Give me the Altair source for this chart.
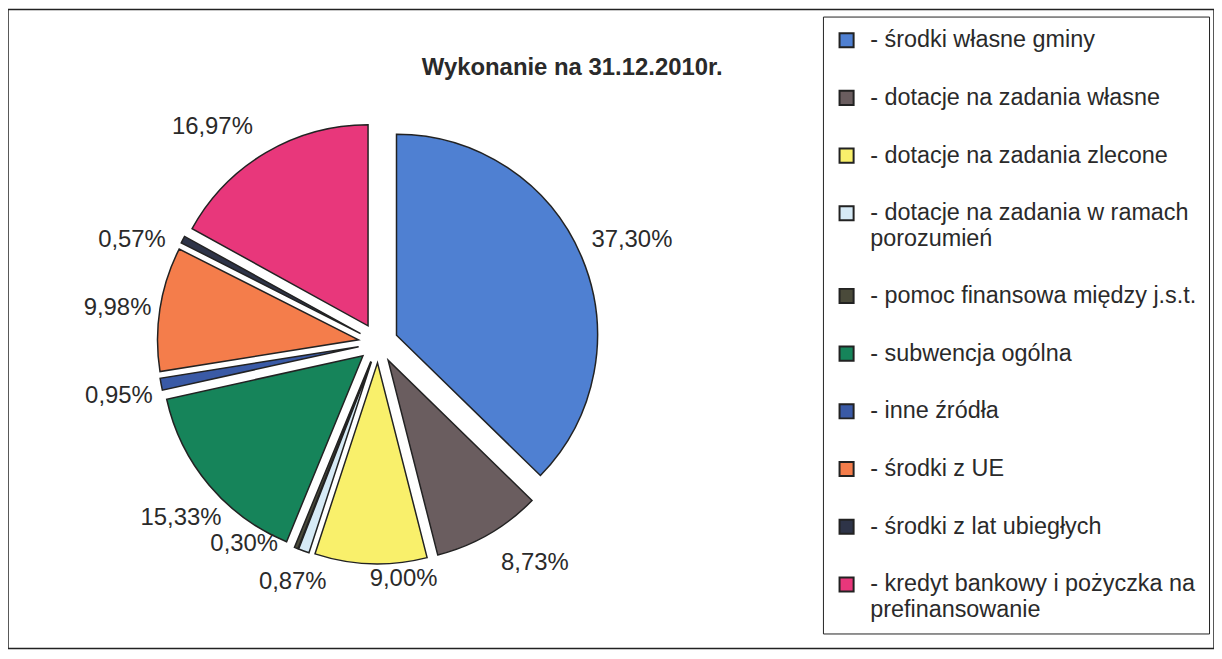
import altair as alt
import pandas as pd

# ---- data ----
categories = [
    "środki własne gminy",
    "dotacje na zadania własne",
    "dotacje na zadania zlecone",
    "dotacje na zadania w ramach porozumień",
    "pomoc finansowa między j.s.t.",
    "subwencja ogólna",
    "inne źródła",
    "środki z UE",
    "środki z lat ubiegłych",
    "kredyt bankowy i pożyczka na prefinansowanie",
]
values = [37.30, 8.73, 9.00, 0.87, 0.30, 15.33, 0.95, 9.98, 0.57, 16.97]
labels = ["37,30%", "8,73%", "9,00%", "0,87%", "0,30%", "15,33%", "0,95%", "9,98%", "0,57%", "16,97%"]
colors = ["#4f80d2", "#6a5d5f", "#f9f06b", "#d6eaf6", "#4a4a3a",
          "#16845a", "#3a5aa6", "#f47d4b", "#2e3448", "#e8377b"]
title_text = "Wykonanie na 31.12.2010r."

df = pd.DataFrame({"cat": categories, "val": values, "label": labels,
                   "order": list(range(len(categories)))})

# ---- layout ----
W, H = 1212, 642
CX, CY = 372, 335      # pie centre
R = 202                # pie radius
EXPLODE = 20           # slice separation
LR = 255               # label radius
FONT = "Liberation Sans"

base = alt.Chart(df).transform_joinaggregate(
    total="sum(val)"
).transform_window(
    cum="sum(val)", sort=[alt.SortField("order")], frame=[None, 0]
).transform_calculate(
    mid="(datum.cum - datum.val / 2) / datum.total * 2 * PI"
).transform_calculate(
    ox=f"{CX} + {EXPLODE} * sin(datum.mid)",
    oy=f"{CY} - {EXPLODE} * cos(datum.mid)",
    lx=f"{CX} + {LR} * sin(datum.mid)",
    ly=f"{CY} - {LR} * cos(datum.mid)",
)

split = "'- ' + datum.label"
cut = f"lastindexof(substring({split}, 0, 32), ' ')"
label_expr = (f"length(datum.label) > 30 ? [substring({split}, 0, {cut}), "
              f"substring({split}, {cut} + 1)] : {split}")

arcs = base.mark_arc(radius=R, stroke="#222", strokeWidth=1.5).encode(
    theta=alt.Theta("val:Q", stack=True),
    order=alt.Order("order:Q"),
    color=alt.Color(
        "cat:N",
        scale=alt.Scale(domain=categories, range=colors),
        sort=categories,
        legend=alt.Legend(
            title=None,
            orient="none",
            legendX=819,
            legendY=7,
            strokeColor="#222",
            padding=12,
            symbolType="square",
            symbolSize=200,
            symbolStrokeColor="#222",
            symbolStrokeWidth=2,
            labelFont=FONT,
            labelFontSize=23.5,
            labelColor="#2a2a2a",
            labelLimit=500,
            labelOffset=12,
            rowPadding=33,
            labelExpr=label_expr,
        ),
    ),
    x=alt.X("ox:Q", scale=None),
    y=alt.Y("oy:Q", scale=None),
)


def label_layer(include, exclude=False, dx=0, dy=0):
    flt = alt.FieldOneOfPredicate(field="label", oneOf=include)
    c = base.transform_filter(~flt if exclude else flt).mark_text(
        font=FONT, fontSize=24, color="#2a2a2a",
        align="center", baseline="middle", dx=dx, dy=dy
    ).encode(
        text="label:N",
        x=alt.X("lx:Q", scale=None),
        y=alt.Y("ly:Q", scale=None),
    )
    return c


tweaked = ["8,73%", "9,00%", "0,30%", "16,97%", "0,57%", "37,30%", "15,33%", "0,95%", "9,98%"]
main_labels = label_layer(tweaked, exclude=True)
l_873 = label_layer(["8,73%"], dx=30, dy=0)
l_900 = label_layer(["9,00%"], dx=34, dy=-18)
l_030 = label_layer(["0,30%"], dx=-40, dy=-35)
l_1697 = label_layer(["16,97%"], dx=-37, dy=3)
l_057 = label_layer(["0,57%"], dx=-22, dy=16)
l_3730 = label_layer(["37,30%"], dx=20, dy=-4)
l_1533 = label_layer(["15,33%"], dx=-3, dy=12)
l_095 = label_layer(["0,95%"], dx=-10, dy=6)
l_998 = label_layer(["9,98%"], dx=-10, dy=4)

title = alt.Chart(pd.DataFrame({"t": [title_text]})).mark_text(
    font=FONT, fontSize=24, fontWeight="bold", color="#2a2a2a",
    align="center", baseline="middle"
).encode(text="t:N", x=alt.value(567), y=alt.value(59))

chart = alt.layer(
    arcs, main_labels, l_873, l_900, l_030, l_1697, l_057, l_3730,
    l_1533, l_095, l_998, title
).properties(
    width=W, height=H, autosize=alt.AutoSizeParams(type="none"), padding=0
).configure_view(
    stroke="#222", strokeWidth=1.5
)

chart.save("out.html", embed_options={"renderer": "svg", "actions": False})
